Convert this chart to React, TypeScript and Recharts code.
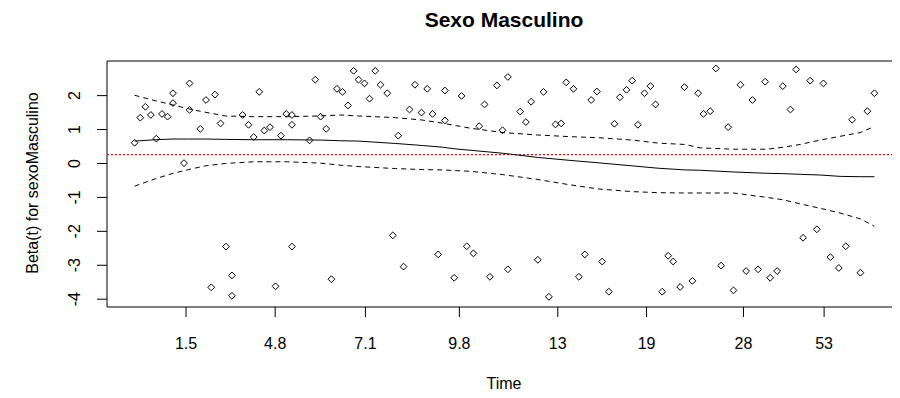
import { ComposedChart, Scatter, Line, XAxis, YAxis, ReferenceLine, ReferenceArea } from 'recharts';

// transformed time (0 = first event, 1 = last event) and scaled Schoenfeld residuals
const TIME_U = [
  0, 0.0077, 0.0146, 0.022, 0.0293, 0.037, 0.0446, 0.0519, 0.0519, 0.0668, 0.0743, 0.0743, 0.0888, 0.0965,
  0.1036, 0.1086, 0.1162, 0.1235, 0.1316, 0.1316, 0.146, 0.154, 0.161, 0.1685, 0.1753, 0.183, 0.1905, 0.1978,
  0.205, 0.2127, 0.2127, 0.2127, 0.2365, 0.2442, 0.2514, 0.259, 0.266, 0.2735, 0.281, 0.2884, 0.296, 0.3027,
  0.3108, 0.3176, 0.3253, 0.3324, 0.3415, 0.349, 0.3564, 0.3635, 0.3716, 0.379, 0.3878, 0.3955, 0.4027, 0.4104,
  0.4195, 0.4195, 0.432, 0.4419, 0.449, 0.458, 0.4658, 0.473, 0.4803, 0.4897, 0.4973, 0.5046, 0.5046, 0.5212,
  0.5289, 0.536, 0.5451, 0.5527, 0.56, 0.5689, 0.5766, 0.5834, 0.5932, 0.6005, 0.6086, 0.6172, 0.6249, 0.632,
  0.6411, 0.6486, 0.656, 0.6649, 0.6726, 0.6803, 0.6892, 0.6973, 0.7041, 0.7131, 0.7212, 0.728, 0.7374, 0.7432,
  0.754, 0.7618, 0.7689, 0.778, 0.7857, 0.7928, 0.8023, 0.8095, 0.8189, 0.8266, 0.8351, 0.8428, 0.8523, 0.8591,
  0.8685, 0.8762, 0.8865, 0.8942, 0.9036, 0.9131, 0.9222, 0.9311, 0.9405, 0.9519, 0.9613, 0.9699, 0.9811, 0.9905,
  1.0,
];
const BETA = [
  0.61, 1.35, 1.67, 1.43, 0.73, 1.46, 1.38, 2.07, 1.78, 0.01, 2.36, 1.58, 1.02, 1.87,
  -3.65, 2.03, 1.18, -2.45, -3.3, -3.9, 1.43, 1.14, 0.78, 2.11, 0.97, 1.07, -3.62, 0.82,
  1.46, 1.43, 1.14, -2.45, 0.68, 2.47, 1.38, 1.02, -3.41, 2.2, 2.11, 1.71, 2.73, 2.47,
  2.36, 1.91, 2.73, 2.32, 2.07, -2.12, 0.82, -3.04, 1.59, 2.32, 1.5, 2.2, 1.46, -2.68,
  2.15, 1.27, -3.37, 1.99, -2.44, -2.65, 1.1, 1.74, -3.34, 2.3, 0.98, 2.55, -3.12, 1.53,
  1.22, 1.82, -2.84, 2.11, -3.93, 1.15, 1.18, 2.39, 2.2, -3.34, -2.68, 1.87, 2.12, -2.89,
  -3.78, 1.17, 1.95, 2.17, 2.44, 1.14, 2.07, 2.28, 1.74, -3.78, -2.72, -2.89, -3.64, 2.25,
  -3.46, 2.07, 1.46, 1.54, 2.8, -3.01, 1.07, -3.74, 2.32, -3.17, 1.87, -3.12, 2.41, -3.37,
  -3.17, 2.28, 1.59, 2.77, -2.19, 2.44, -1.94, 2.36, -2.76, -3.08, -2.44, 1.29, -3.22, 1.54,
  2.07,
];

// smoothed beta(t) with its confidence band
const CURVE_U = [
  0, 0.028, 0.0505, 0.073, 0.0955, 0.1226, 0.1604, 0.2064, 0.2509, 0.278, 0.3023, 0.3523, 0.3888, 0.4158,
  0.4334, 0.4536, 0.4982, 0.5442, 0.5888, 0.6266, 0.6726, 0.7077, 0.7442, 0.7645, 0.8091, 0.855, 0.8766,
  0.8996, 0.9266, 0.9536, 0.9807, 1.0,
];
const FIT = [
  0.66, 0.7, 0.72, 0.72, 0.72, 0.71, 0.7, 0.7, 0.69, 0.67, 0.66, 0.59, 0.53, 0.48,
  0.43, 0.39, 0.3, 0.18, 0.09, 0.02, -0.07, -0.14, -0.19, -0.2, -0.25, -0.29, -0.3,
  -0.32, -0.34, -0.38, -0.39, -0.39,
];
const UPPER = [
  2.01, 1.85, 1.73, 1.61, 1.51, 1.4, 1.38, 1.38, 1.4, 1.43, 1.4, 1.35, 1.28, 1.19,
  1.12, 1.04, 0.91, 0.84, 0.79, 0.76, 0.69, 0.6, 0.56, 0.46, 0.42, 0.42, 0.48,
  0.56, 0.69, 0.8, 0.91, 1.09,
];
const LOWER = [
  -0.67, -0.45, -0.3, -0.18, -0.07, 0.0, 0.05, 0.05, 0.01, -0.05, -0.09, -0.15, -0.18, -0.19,
  -0.21, -0.23, -0.33, -0.47, -0.63, -0.75, -0.83, -0.86, -0.87, -0.87, -0.87, -1.0, -1.07,
  -1.19, -1.32, -1.46, -1.63, -1.85,
];

const TICK_U = [0.0695, 0.19, 0.312, 0.439, 0.572, 0.692, 0.823, 0.932];
const TICK_LABELS = ['1.5', '4.8', '7.1', '9.8', '13', '19', '28', '53'];
const BETA_TICKS = [-4, -3, -2, -1, 0, 1, 2];
const COEF = 0.26;

const X_DOMAIN: [number, number] = [-0.0373, 1.0373];
const Y_DOMAIN: [number, number] = [-4.23, 3.02];

const FONT = '"Liberation Sans", Arial, sans-serif';

const points = TIME_U.map((u, i) => ({ u, beta: BETA[i] }));
const curve = CURVE_U.map((u, i) => ({ u, fit: FIT[i], upper: UPPER[i], lower: LOWER[i] }));

function Diamond(props: any) {
  const { cx, cy } = props;
  const r = 3.4;
  return (
    <polygon
      points={`${cx},${cy - r} ${cx + r},${cy} ${cx},${cy + r} ${cx - r},${cy}`}
      fill="none"
      stroke="#000"
      strokeWidth={1}
    />
  );
}

function TimeTick(props: any) {
  const { x, payload } = props;
  const label = TICK_LABELS[TICK_U.indexOf(payload.value)];
  return (
    <text x={x} y={341} textAnchor="middle" fontSize={16} fontFamily={FONT} fill="#000">
      {label}
    </text>
  );
}

function BetaTick(props: any) {
  const { y, payload } = props;
  return (
    <text
      transform={`translate(72, ${y}) rotate(-90)`}
      textAnchor="middle"
      fontSize={16}
      fontFamily={FONT}
      fill="#000"
    >
      {payload.value}
    </text>
  );
}

export default function App() {
  return (
    <div style={{ position: 'relative', width: 892, height: 390, overflow: 'hidden', fontFamily: FONT }}>
      <div
        style={{
          position: 'absolute', left: 496, top: 1, transform: 'translateX(-50%)',
          fontSize: 21, lineHeight: '21px', fontWeight: 'bold', whiteSpace: 'nowrap',
        }}
      >
        Sexo Masculino
      </div>
      <div
        style={{
          position: 'absolute', left: 24.5, top: 175, transform: 'translate(-50%, -50%) rotate(-90deg)',
          fontSize: 16, lineHeight: '16px', whiteSpace: 'nowrap',
        }}
      >
        Beta(t) for sexoMasculino
      </div>
      <div
        style={{
          position: 'absolute', left: 496, top: 368, transform: 'translateX(-50%)',
          fontSize: 16, lineHeight: '16px', whiteSpace: 'nowrap',
        }}
      >
        Time
      </div>
      <ComposedChart width={910} height={390} margin={{ top: 53, right: 16, bottom: 0, left: 0 }}>
        <XAxis
          type="number"
          dataKey="u"
          domain={X_DOMAIN}
          allowDataOverflow
          ticks={TICK_U}
          interval={0}
          tick={<TimeTick />}
          tickSize={10}
          tickLine={{ stroke: '#000' }}
          axisLine={false}
          height={91}
        />
        <YAxis
          type="number"
          domain={Y_DOMAIN}
          allowDataOverflow
          ticks={BETA_TICKS}
          interval={0}
          tick={<BetaTick />}
          tickSize={10}
          tickLine={{ stroke: '#000' }}
          axisLine={false}
          width={99}
        />
        <ReferenceArea
          x1={X_DOMAIN[0]}
          x2={X_DOMAIN[1]}
          y1={Y_DOMAIN[0]}
          y2={Y_DOMAIN[1]}
          fill="none"
          fillOpacity={0}
          stroke="#000"
          strokeWidth={1}
        />
        <ReferenceLine y={COEF} stroke="#ff0000" strokeWidth={1.3} strokeDasharray="2 2" />
        <Line data={curve} dataKey="fit" type="linear" stroke="#000" strokeWidth={1} dot={false} isAnimationActive={false} />
        <Line data={curve} dataKey="upper" type="linear" stroke="#000" strokeWidth={1} strokeDasharray="5 4" dot={false} isAnimationActive={false} />
        <Line data={curve} dataKey="lower" type="linear" stroke="#000" strokeWidth={1} strokeDasharray="5 4" dot={false} isAnimationActive={false} />
        <Scatter data={points} dataKey="beta" shape={<Diamond />} isAnimationActive={false} />
      </ComposedChart>
    </div>
  );
}
